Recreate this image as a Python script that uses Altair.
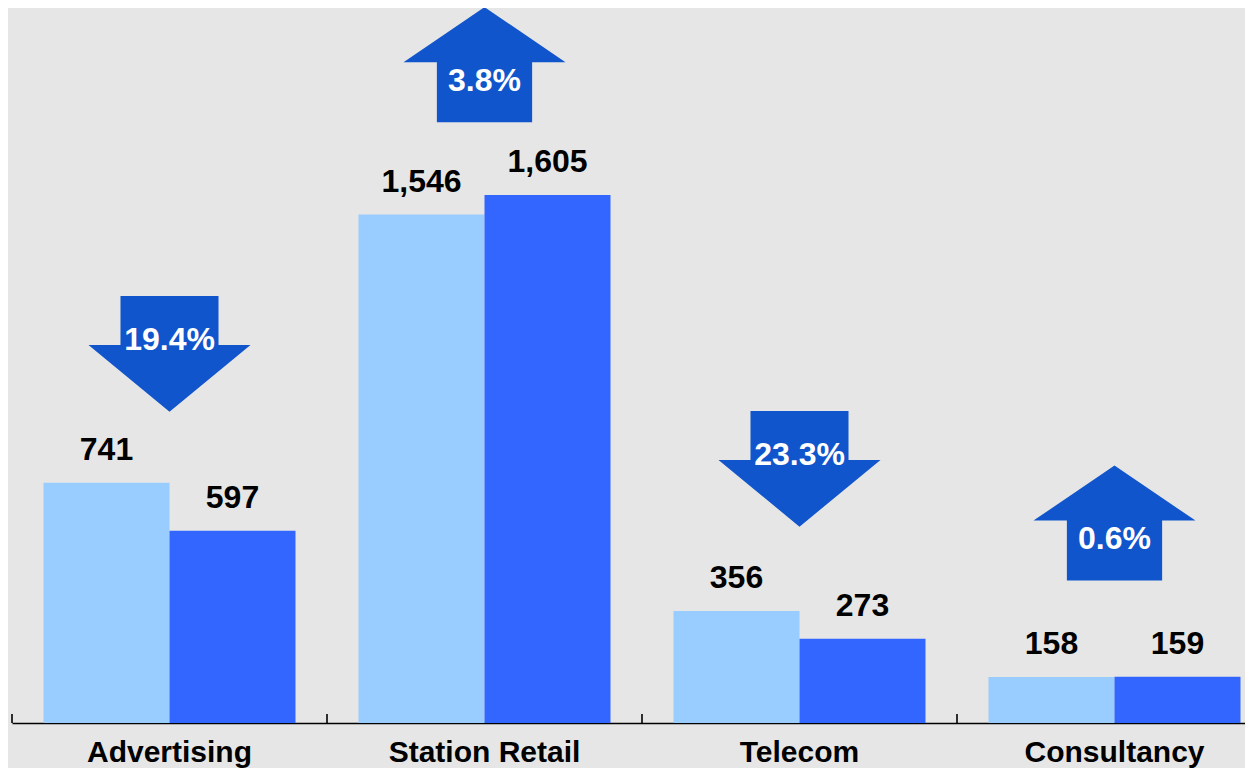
import altair as alt
import pandas as pd

# ---- data ----
categories = ["Advertising", "Station Retail", "Telecom", "Consultancy"]
series = ["Previous", "Current"]
previous = [741, 1546, 356, 158]
current = [597, 1605, 273, 159]
# vertical anchor of each change arrow (data units)
arrow_level = [1128, 1996, 783, 620]

rows = []
for c, p, q in zip(categories, previous, current):
    rows.append({"category": c, "series": series[0], "value": p})
    rows.append({"category": c, "series": series[1], "value": q})
bars_df = pd.DataFrame(rows)
bars_df["label"] = bars_df["value"].map(lambda v: f"{v:,}")

arr_rows = []
for c, p, q, lv in zip(categories, previous, current, arrow_level):
    pct = (q - p) / p * 100
    arr_rows.append({
        "category": c,
        "level": lv,
        "label": f"{abs(pct):.1f}%",
        "direction": "up" if pct >= 0 else "down",
    })
arrows_df = pd.DataFrame(arr_rows)

FONT = "Liberation Sans"
ARROW_COLOR = "#1155cc"
UP = "M0,-0.71 L1,-0.031 L0.588,-0.031 L0.588,0.71 L-0.588,0.71 L-0.588,-0.031 L-1,-0.031 Z"
DOWN = "M-0.605,-0.714 L0.605,-0.714 L0.605,-0.109 L1,-0.109 L0,0.715 L-1,-0.109 L-0.605,-0.109 Z"

H = 715
xscale = alt.Scale(domain=categories, range=[0, 1260], paddingInner=0.2, paddingOuter=0.1)
yscale = alt.Scale(domain=[20, 2166], nice=False, zero=False)

x_enc = alt.X(
    "category:N",
    sort=categories,
    scale=xscale,
    title=None,
    axis=alt.Axis(
        labelAngle=0,
        labelFont=FONT,
        labelFontSize=30,
        labelFontWeight="bold",
        labelColor="#000000",
        labelPadding=38,
        labelBaseline="alphabetic",
        labelLimit=0,
        ticks=False,
        tickSize=0,
        grid=False,
        domainColor="#000000",
        domainWidth=1.6,
        labelOverlap=False,
    ),
)
xoff = alt.XOffset("series:N", sort=series, scale=alt.Scale(paddingInner=0, paddingOuter=0))
y_enc = alt.Y("value:Q", scale=yscale, axis=None)

bars = alt.Chart(bars_df).mark_bar(clip=True).encode(
    x=x_enc,
    xOffset=xoff,
    y=y_enc,
    y2=alt.datum(0),
    color=alt.Color("series:N", sort=series,
                    scale=alt.Scale(domain=series, range=["#99ccff", "#3366ff"]),
                    legend=None),
)

values = alt.Chart(bars_df).mark_text(
    dy=-23, baseline="alphabetic", align="center",
    font=FONT, fontSize=32, fontWeight="bold", color="#000000",
).encode(
    x=alt.X("category:N", sort=categories, scale=xscale),
    xOffset=xoff,
    y=y_enc,
    text="label:N",
)

ticks = alt.Chart(pd.DataFrame({"category": categories})).mark_rule(
    color="#000000", strokeWidth=1.6, xOffset=-31.5,
).encode(
    x=alt.X("category:N", sort=categories, scale=xscale, bandPosition=0),
    y=alt.value(H - 9),
    y2=alt.value(H),
)

arrow_base = alt.Chart(arrows_df)
arr_x = alt.X("category:N", sort=categories, scale=xscale)
arr_y = alt.Y("level:Q", scale=yscale, axis=None)

up_arrows = arrow_base.transform_filter(alt.datum.direction == "up").mark_point(
    shape=UP, filled=True, size=162 * 162, color=ARROW_COLOR, opacity=1, strokeWidth=0
).encode(x=arr_x, y=arr_y)

down_arrows = arrow_base.transform_filter(alt.datum.direction == "down").mark_point(
    shape=DOWN, filled=True, size=162 * 162, color=ARROW_COLOR, opacity=1, strokeWidth=0
).encode(x=arr_x, y=arr_y)

up_text = arrow_base.transform_filter(alt.datum.direction == "up").mark_text(
    dy=26, baseline="alphabetic", align="center",
    font=FONT, fontSize=32, fontWeight="bold", color="#ffffff",
).encode(x=arr_x, y=arr_y, text="label:N")

down_text = arrow_base.transform_filter(alt.datum.direction == "down").mark_text(
    dy=-4, baseline="alphabetic", align="center",
    font=FONT, fontSize=32, fontWeight="bold", color="#ffffff",
).encode(x=arr_x, y=arr_y, text="label:N")

chart = alt.layer(
    bars, ticks, values, up_arrows, down_arrows, up_text, down_text
).properties(
    width=1233,
    height=H,
    background="#e6e6e6",
    autosize=alt.AutoSizeParams(type="none"),
    padding={"left": 4, "top": 0, "right": 0, "bottom": 45},
).configure_view(stroke=None)

chart.save("out.html", embed_options={"renderer": "svg", "actions": False})
